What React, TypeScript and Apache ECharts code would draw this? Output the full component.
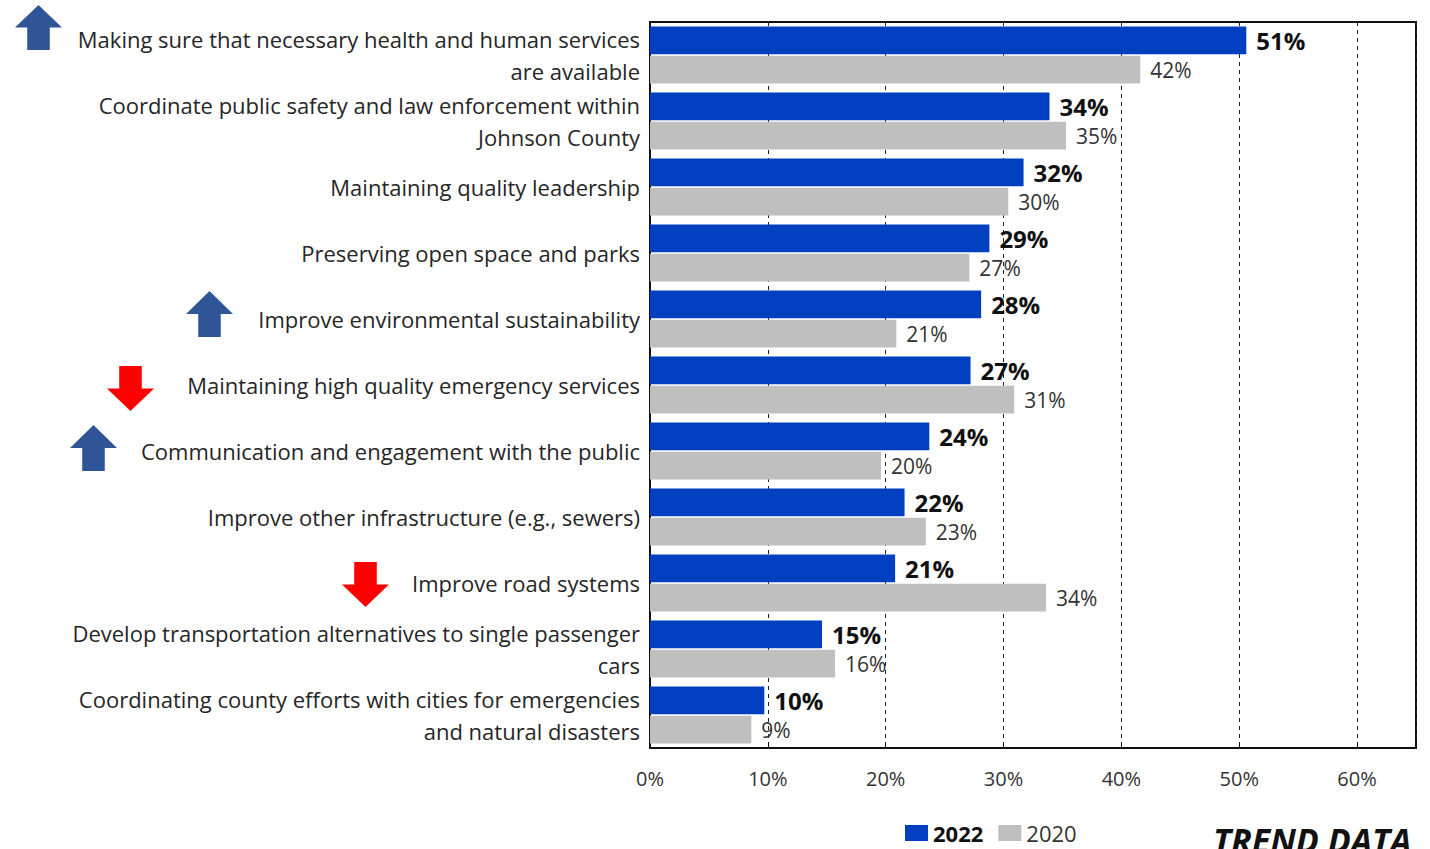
import React, { useEffect, useRef } from "react";
import * as echarts from "echarts";

const categories = [
  "Making sure that necessary health and human services\nare available",
  "Coordinate public safety and law enforcement within\nJohnson County",
  "Maintaining quality leadership",
  "Preserving open space and parks",
  "Improve environmental sustainability",
  "Maintaining high quality emergency services",
  "Communication and engagement with the public",
  "Improve other infrastructure (e.g., sewers)",
  "Improve road systems",
  "Develop transportation alternatives to single passenger\ncars",
  "Coordinating county efforts with cities for emergencies\nand natural disasters",
];
// bar lengths (labels show rounded percentages)
const values2022 = [50.6, 33.9, 31.7, 28.8, 28.1, 27.2, 23.7, 21.6, 20.8, 14.6, 9.7];
const values2020 = [41.6, 35.3, 30.4, 27.1, 20.9, 30.9, 19.6, 23.4, 33.6, 15.7, 8.6];
const seriesNames = ["2022", "2020"];
const trendArrows = [
  { row: 0, dir: "up" },
  { row: 4, dir: "up" },
  { row: 5, dir: "down" },
  { row: 6, dir: "up" },
  { row: 8, dir: "down" },
];

// layout of arrows (left x, top y, width, height) per row
const ARROW_BOX: Record<number, [number, number, number, number]> = {
  0: [15, 5, 47, 45],
  4: [186, 291, 47, 46],
  5: [107, 366, 47, 45],
  6: [70, 425, 47, 46],
  8: [342, 562, 47, 45],
};

const FONT = "'Open Sans', 'Noto Sans', sans-serif";

function arrowPoints(x: number, y: number, w: number, h: number, dir: string) {
  const sx0 = x + w * 0.26;
  const sx1 = x + w * 0.74;
  const hh = h * 0.5;
  if (dir === "up") {
    return [
      [x + w / 2, y],
      [x + w, y + hh],
      [sx1, y + hh],
      [sx1, y + h],
      [sx0, y + h],
      [sx0, y + hh],
      [x, y + hh],
    ];
  }
  return [
    [sx0, y],
    [sx1, y],
    [sx1, y + h - hh],
    [x + w, y + h - hh],
    [x + w / 2, y + h],
    [x, y + h - hh],
    [sx0, y + h - hh],
  ];
}

export default function App() {
  const ref = useRef<HTMLDivElement>(null);
  useEffect(() => {
    if (!ref.current) return;
    const chart = echarts.init(ref.current, null, { renderer: "svg" });
    const graphics: any[] = trendArrows.map((a) => {
      const [x, y, w, h] = ARROW_BOX[a.row];
      return {
        type: "polygon",
        shape: { points: arrowPoints(x, y, w, h, a.dir) },
        style: { fill: a.dir === "up" ? "#2F5597" : "#FF0000" },
        z: 10,
      };
    });
    graphics.push({
      type: "text",
      left: 1213,
      top: 823,
      style: {
        text: "TREND DATA",
        font: `italic bold 34px ${FONT}`,
        fill: "#111",
      },
    });
    const pct = (p: any) => `${Math.round(p.value)}%`;
    chart.setOption({
      animation: false,
      textStyle: { fontFamily: FONT },
      grid: {
        left: 650,
        right: 14,
        top: 22,
        bottom: 101,
        show: true,
        borderColor: "#111",
        borderWidth: 2,
      },
      legend: {
        data: seriesNames,
        left: 900,
        top: 817,
        itemWidth: 23,
        itemHeight: 16,
        itemGap: 15,
        icon: "rect",
        textStyle: {
          fontFamily: FONT,
          fontSize: 22,
          color: "#222",
          rich: {
            b: { fontWeight: "bold", fontSize: 22, color: "#111", fontFamily: FONT },
            n: { fontSize: 22, color: "#333", fontFamily: FONT },
          },
        },
        formatter: (name: string) => (name === "2022" ? `{b|${name}}` : `{n|${name}}`),
      },
      xAxis: {
        type: "value",
        min: 0,
        max: 65,
        interval: 10,
        axisLine: { show: false },
        axisTick: { show: true, inside: true, length: 6, lineStyle: { color: "#111" } },
        splitLine: {
          show: true,
          lineStyle: { type: [4, 4], color: "#222", width: 1 },
        },
        axisLabel: {
          fontFamily: FONT,
          fontSize: 20,
          color: "#333",
          margin: 20,
          formatter: (v: number) => (v % 10 === 0 ? `${v}%` : ""),
        },
      },
      yAxis: {
        type: "category",
        inverse: true,
        data: categories,
        axisLine: { show: true, lineStyle: { color: "#111", width: 2 } },
        axisTick: { show: false },
        axisLabel: {
          fontFamily: FONT,
          fontSize: 22,
          color: "#262626",
          lineHeight: 32,
          margin: 10,
          align: "right",
        },
      },
      series: [
        {
          name: seriesNames[0],
          type: "bar",
          data: values2022,
          barCategoryGap: "14%",
          barGap: "6%",
          itemStyle: { color: "#0040C0" },
          label: {
            show: true,
            position: "right",
            distance: 10,
            formatter: pct,
            fontFamily: FONT,
            fontSize: 24,
            fontWeight: "bold",
            color: "#111",
          },
        },
        {
          name: seriesNames[1],
          type: "bar",
          data: values2020,
          itemStyle: { color: "#BFBFBF" },
          label: {
            show: true,
            position: "right",
            distance: 10,
            formatter: pct,
            fontFamily: FONT,
            fontSize: 21,
            color: "#333",
          },
        },
      ],
      graphic: graphics,
    });
    return () => chart.dispose();
  }, []);
  return (
    <div
      ref={ref}
      style={{ position: "fixed", left: 0, top: 0, width: 1430, height: 849, background: "#fff" }}
    />
  );
}
